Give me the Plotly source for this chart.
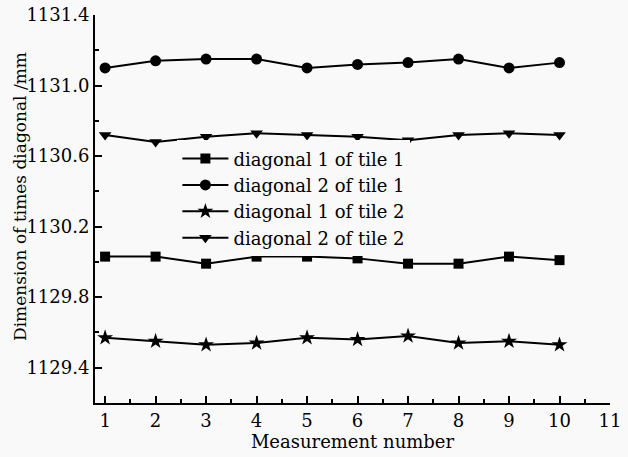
import plotly.graph_objects as go

measurement = [1, 2, 3, 4, 5, 6, 7, 8, 9, 10]
d1_tile1 = [1130.03, 1130.03, 1129.99, 1130.03, 1130.03, 1130.02, 1129.99, 1129.99, 1130.03, 1130.01]
d2_tile1 = [1131.10, 1131.14, 1131.15, 1131.15, 1131.10, 1131.12, 1131.13, 1131.15, 1131.10, 1131.13]
d1_tile2 = [1129.57, 1129.55, 1129.53, 1129.54, 1129.57, 1129.56, 1129.58, 1129.54, 1129.55, 1129.53]
d2_tile2 = [1130.72, 1130.68, 1130.71, 1130.73, 1130.72, 1130.71, 1130.69, 1130.72, 1130.73, 1130.72]

names = ["diagonal 1 of tile 1", "diagonal 2 of tile 1", "diagonal 1 of tile 2", "diagonal 2 of tile 2"]
series = [d1_tile1, d2_tile1, d1_tile2, d2_tile2]
symbols = ["square", "circle", "star", "triangle-down"]
sizes = [10, 11, 12, 11]

FONT = "DejaVu Serif"
BG = "#f9f9f9"

fig = go.Figure()
for i, (n, s, sym, sz) in enumerate(zip(names, series, symbols, sizes)):
    fig.add_trace(go.Scatter(
        x=measurement, y=s, name=n, mode="lines+markers",
        line=dict(color="black", width=2),
        marker=dict(symbol=sym, size=sz, color="black"),
    ))

fig.add_annotation(
    text="Dimension of times diagonal /mm", textangle=-90,
    xref="paper", yref="paper", x=-0.1456, y=0.531,
    xanchor="center", yanchor="middle", showarrow=False,
    font=dict(family=FONT, size=17, color="black"),
)

fig.update_layout(
    width=628, height=457,
    margin=dict(l=95, r=18, t=15, b=54),
    paper_bgcolor=BG, plot_bgcolor=BG,
    font=dict(family=FONT, size=18, color="black"),
    showlegend=True,
    legend=dict(
        x=0.16, y=0.677, xanchor="left", yanchor="top",
        bgcolor=BG, borderwidth=0,
        font=dict(family=FONT, size=18, color="black"),
        itemwidth=46,
    ),
    xaxis=dict(
        range=[0.8, 11], tick0=1, dtick=1, automargin=False,
        showline=True, linecolor="black", linewidth=2,
        showgrid=False, zeroline=False,
        ticks="inside", ticklen=7, tickwidth=1.5, tickcolor="black",
        minor=dict(ticks="inside", ticklen=4, tickwidth=1.5, tickcolor="black", dtick=0.5, tick0=1, showgrid=False),
        title=dict(text="Measurement number", font=dict(family=FONT, size=18), standoff=2),
        tickfont=dict(family=FONT, size=18),
    ),
    yaxis=dict(
        range=[1129.2, 1131.4], tick0=1129.4, dtick=0.4, tickformat=".1f", automargin=False,
        showline=True, linecolor="black", linewidth=2,
        showgrid=False, zeroline=False,
        ticks="inside", ticklen=7, tickwidth=1.5, tickcolor="black",
        minor=dict(ticks="inside", ticklen=4, tickwidth=1.5, tickcolor="black", dtick=0.2, tick0=1129.4, showgrid=False),
        tickfont=dict(family=FONT, size=18),
    ),
)

fig.write_html("out.html", config={"displayModeBar": False},
               post_script="document.body.style.margin='0';")
